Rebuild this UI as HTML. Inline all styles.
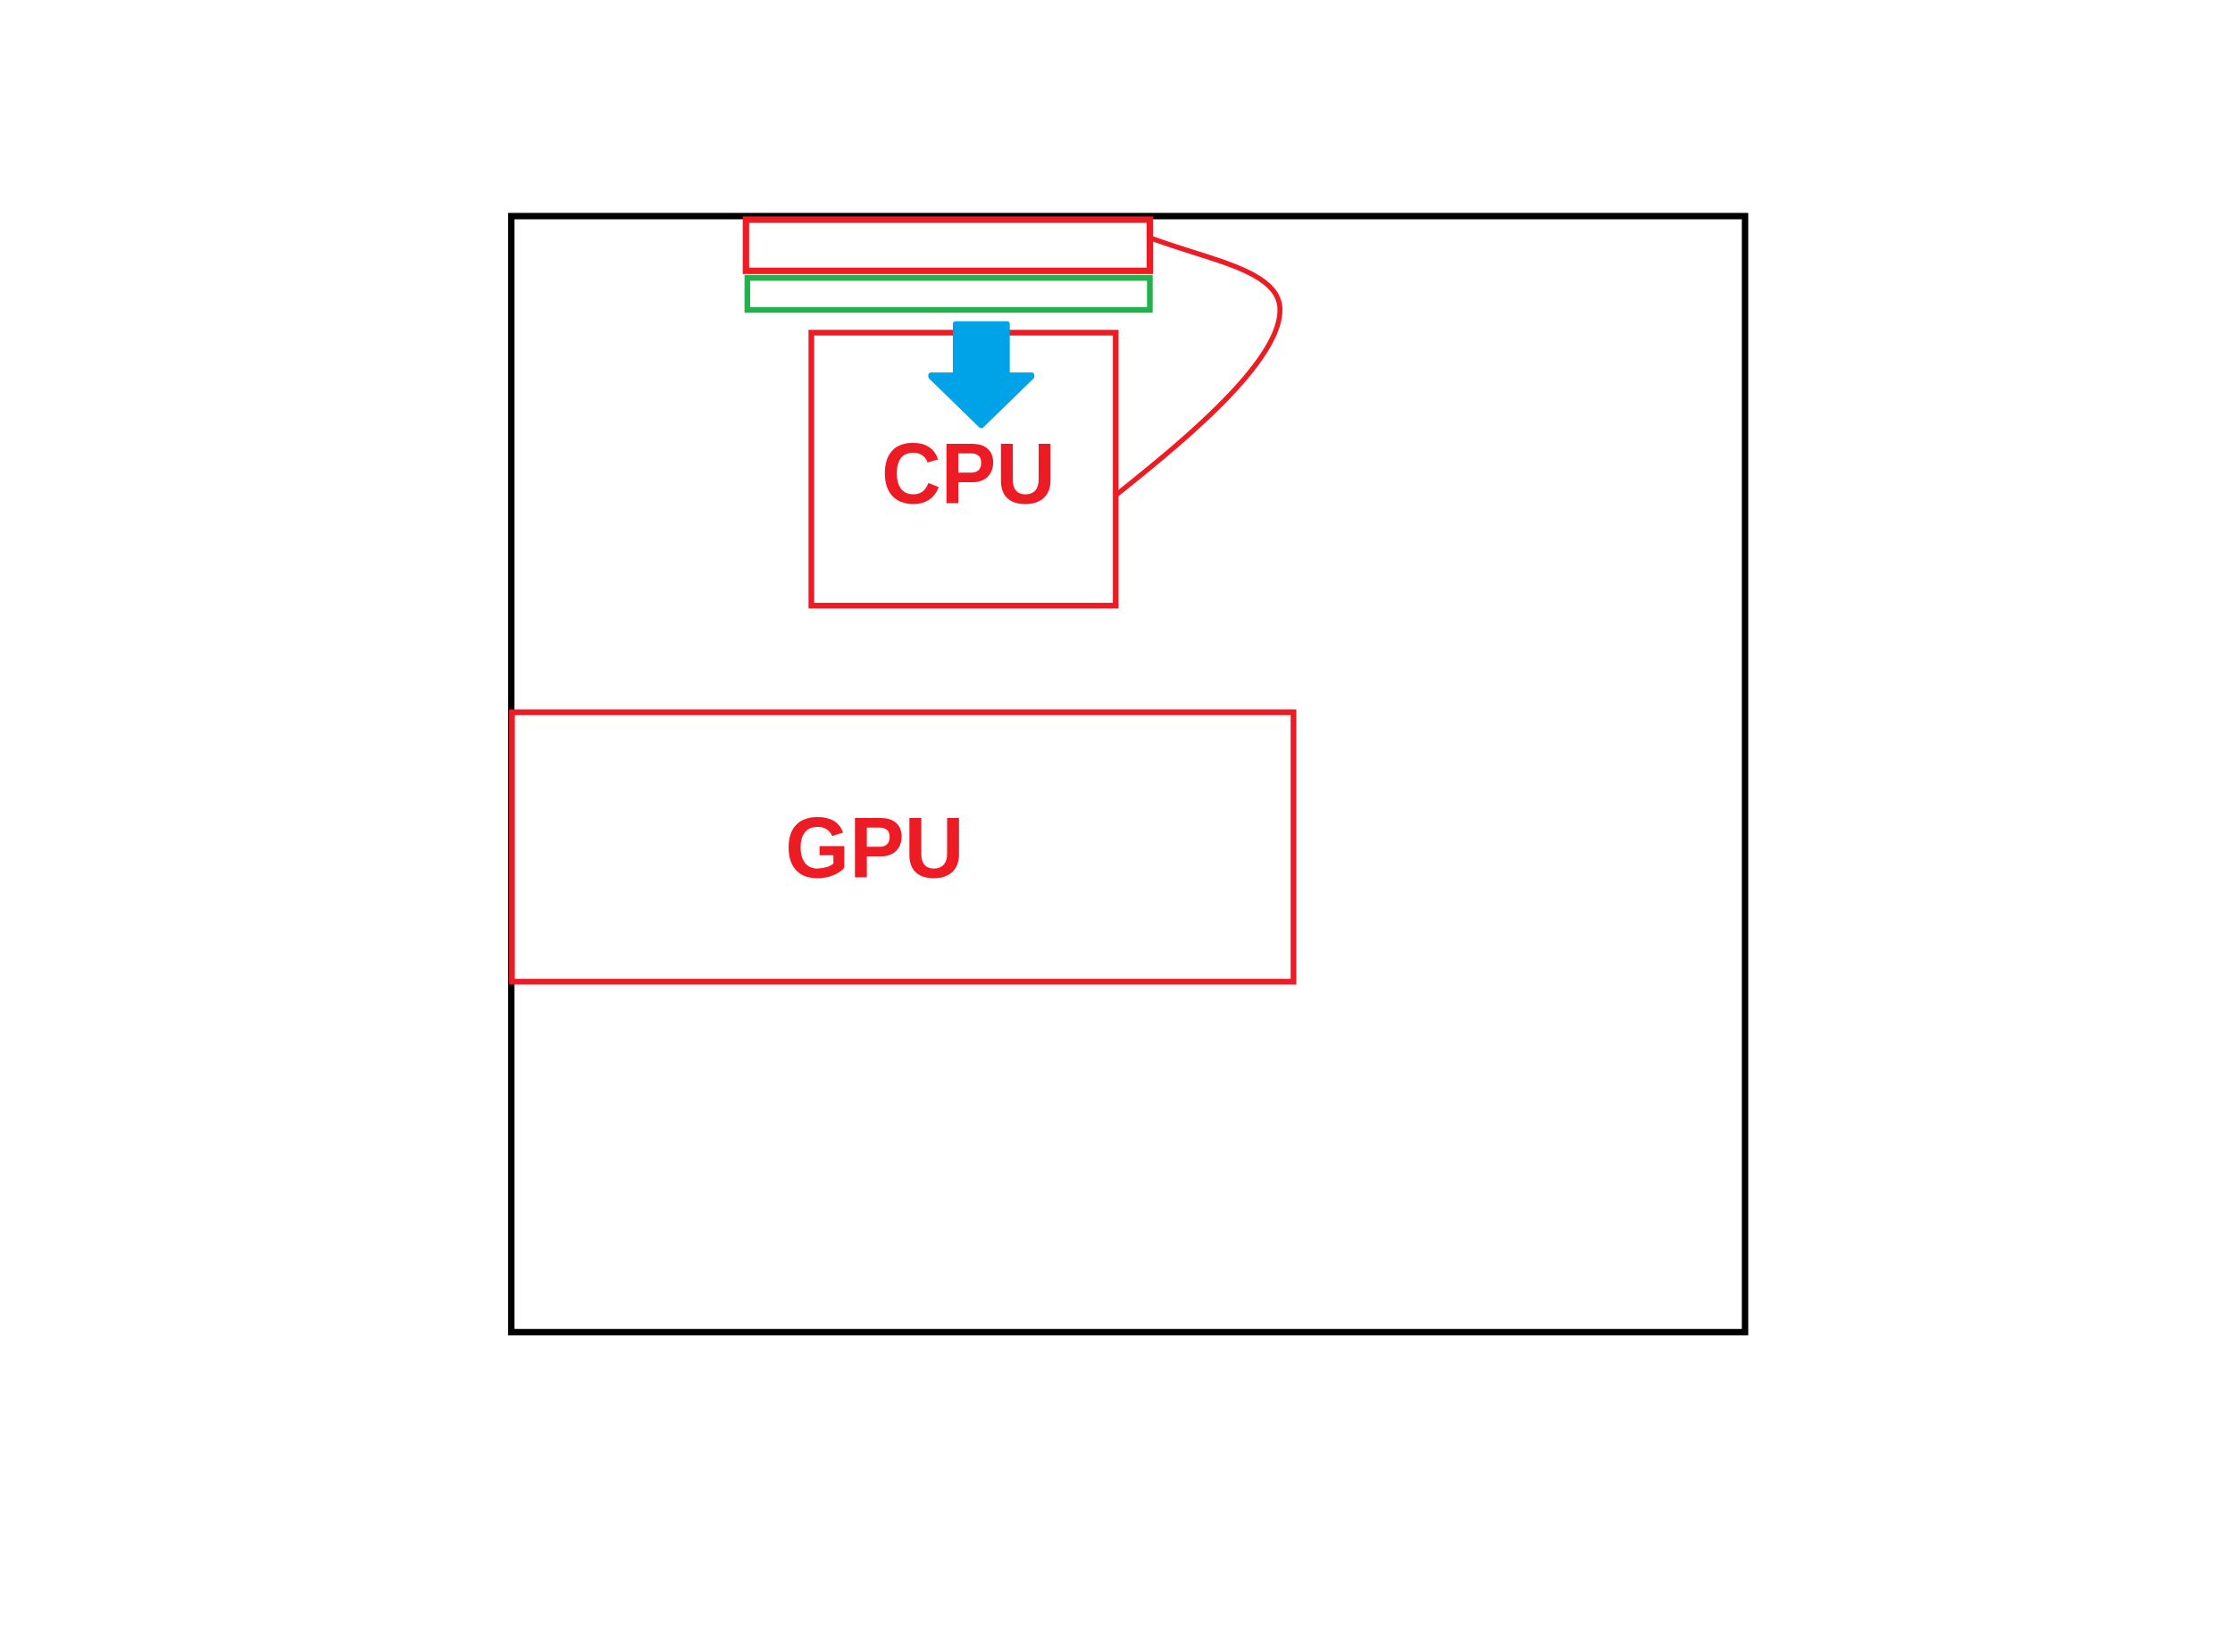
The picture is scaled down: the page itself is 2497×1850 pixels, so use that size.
<!DOCTYPE html>
<html><head><meta charset="utf-8"><style>html,body{margin:0;padding:0;background:#fff}svg{display:block}</style></head>
<body>
<svg width="2497" height="1850" viewBox="0 0 1568 1162" preserveAspectRatio="none" xmlns="http://www.w3.org/2000/svg">
<rect x="0" y="0" width="1568" height="1162" fill="#fff"/>
<rect x="359.5" y="152" width="867.5" height="785" fill="none" stroke="#000" stroke-width="4.5"/>
<rect x="524.5" y="154.5" width="284" height="36" fill="none" stroke="#ed1c24" stroke-width="4.5"/>
<rect x="525.5" y="195.5" width="283" height="22.5" fill="none" stroke="#22b14c" stroke-width="4"/>
<rect x="570.5" y="234" width="214" height="192" fill="none" stroke="#ed1c24" stroke-width="4"/>
<path d="M808 167 C850 183 900 190 900 218 C900 255 830 312 785 348" fill="none" stroke="#ed1c24" stroke-width="3.5"/>
<path d="M672 226 L708 226 Q710 226 710 228 L710 262 L726 262 Q728 263 727 266 L691 301 L689 301 L653 266 Q652 263 654 262 L670 262 L670 228 Q670 226 672 226 Z" fill="#00a2e8"/>
<text x="681" y="354" text-anchor="middle" font-family="Liberation Sans, sans-serif" font-weight="bold" font-size="58" fill="#ed1c24" transform="translate(681 354) scale(1 1.05) translate(-681 -354)">CPU</text>
<rect x="360" y="501" width="549.5" height="189.5" fill="none" stroke="#ed1c24" stroke-width="4"/>
<text x="615" y="617" text-anchor="middle" font-family="Liberation Sans, sans-serif" font-weight="bold" font-size="58" fill="#ed1c24" transform="translate(615 617) scale(1 1.05) translate(-615 -617)">GPU</text>
</svg>
</body></html>
